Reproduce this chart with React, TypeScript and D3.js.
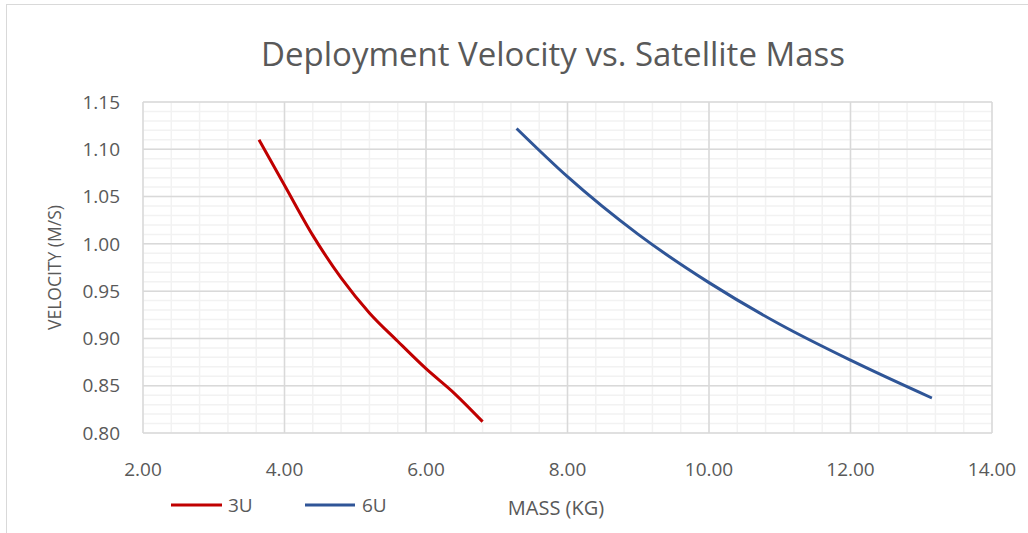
import * as d3 from "d3";

// values
const mass3U = [3.64, 4.0, 4.4, 4.8, 5.2, 5.6, 6.0, 6.4, 6.8];
const vel3U = [1.11, 1.062, 1.009, 0.964, 0.927, 0.897, 0.868, 0.842, 0.812];
const mass6U = [7.28, 8.0, 9.0, 10.0, 11.0, 12.0, 13.15];
const vel6U = [1.122, 1.071, 1.01, 0.959, 0.915, 0.877, 0.837];
const xTicks = [2, 4, 6, 8, 10, 12, 14];
const yTicks = [0.8, 0.85, 0.9, 0.95, 1.0, 1.05, 1.1, 1.15];

const W = 1028;
const H = 533;
const margin = { top: 102, right: 36, bottom: 100, left: 143 };
const font = "'Open Sans', sans-serif";
const textColor = "#595959";

export default function App() {
  const innerW = W - margin.left - margin.right;
  const innerH = H - margin.top - margin.bottom;

  const x = d3.scaleLinear().domain([2, 14]).range([0, innerW]);
  const y = d3.scaleLinear().domain([0.8, 1.15]).range([innerH, 0]);

  const minorX = d3.range(2, 14.001, 0.4);
  const minorY = d3.range(0.8, 1.1501, 0.01);

  const line = d3
    .line<[number, number]>()
    .x((d) => x(d[0]))
    .y((d) => y(d[1]))
    .curve(d3.curveMonotoneX);

  const pts3U = mass3U.map((m, i) => [m, vel3U[i]] as [number, number]);
  const pts6U = mass6U.map((m, i) => [m, vel6U[i]] as [number, number]);

  return (
    <svg
      width={W}
      height={H}
      style={{ position: "absolute", left: 0, top: 0, background: "#fff" }}
    >
      <rect x={6.5} y={4.5} width={W} height={H} fill="#fff" stroke="#d9d9d9" />
      <text
        x={553}
        y={66}
        textAnchor="middle"
        fontFamily={font}
        fontSize={33}
        fill={textColor}
      >
        Deployment Velocity vs. Satellite Mass
      </text>

      <g transform={`translate(${margin.left},${margin.top})`}>
        {minorX.map((v, i) => (
          <line key={"mx" + i} x1={x(v)} x2={x(v)} y1={0} y2={innerH} stroke="#f2f2f2" strokeWidth={1.5} />
        ))}
        {minorY.map((v, i) => (
          <line key={"my" + i} x1={0} x2={innerW} y1={y(v)} y2={y(v)} stroke="#f2f2f2" strokeWidth={1.5} />
        ))}
        {xTicks.map((v) => (
          <line key={"gx" + v} x1={x(v)} x2={x(v)} y1={0} y2={innerH} stroke="#d9d9d9" strokeWidth={1.5} />
        ))}
        {yTicks.map((v) => (
          <line key={"gy" + v} x1={0} x2={innerW} y1={y(v)} y2={y(v)} stroke="#d9d9d9" strokeWidth={1.5} />
        ))}

        {xTicks.map((v) => (
          <text
            key={"tx" + v}
            x={x(v)}
            y={innerH + 36}
            dy="0.35em"
            textAnchor="middle"
            fontFamily={font}
            fontSize={19}
            fill={textColor}
          >
            {d3.format(".2f")(v)}
          </text>
        ))}
        {yTicks.map((v) => (
          <text
            key={"ty" + v}
            x={-23}
            y={y(v)}
            dy="0.35em"
            textAnchor="end"
            fontFamily={font}
            fontSize={19}
            fill={textColor}
          >
            {d3.format(".2f")(v)}
          </text>
        ))}

        <path d={line(pts3U) ?? ""} fill="none" stroke="#c00000" strokeWidth={3} />
        <path d={line(pts6U) ?? ""} fill="none" stroke="#2f5597" strokeWidth={3} />
      </g>

      <text
        transform={`translate(55,${margin.top + innerH / 2}) rotate(-90)`}
        textAnchor="middle"
        dy="0.35em"
        fontFamily={font}
        fontSize={17.5}
        fill={textColor}
      >
        VELOCITY (M/S)
      </text>

      <text x={556} y={508} dy="0.35em" textAnchor="middle" fontFamily={font} fontSize={20} fill={textColor}>
        MASS (KG)
      </text>

      <line x1={171} x2={222} y1={505} y2={505} stroke="#c00000" strokeWidth={3} />
      <text x={228} y={505} dy="0.35em" fontFamily={font} fontSize={19} fill={textColor}>
        3U
      </text>
      <line x1={305} x2={355} y1={505} y2={505} stroke="#2f5597" strokeWidth={3} />
      <text x={362} y={505} dy="0.35em" fontFamily={font} fontSize={19} fill={textColor}>
        6U
      </text>
    </svg>
  );
}
